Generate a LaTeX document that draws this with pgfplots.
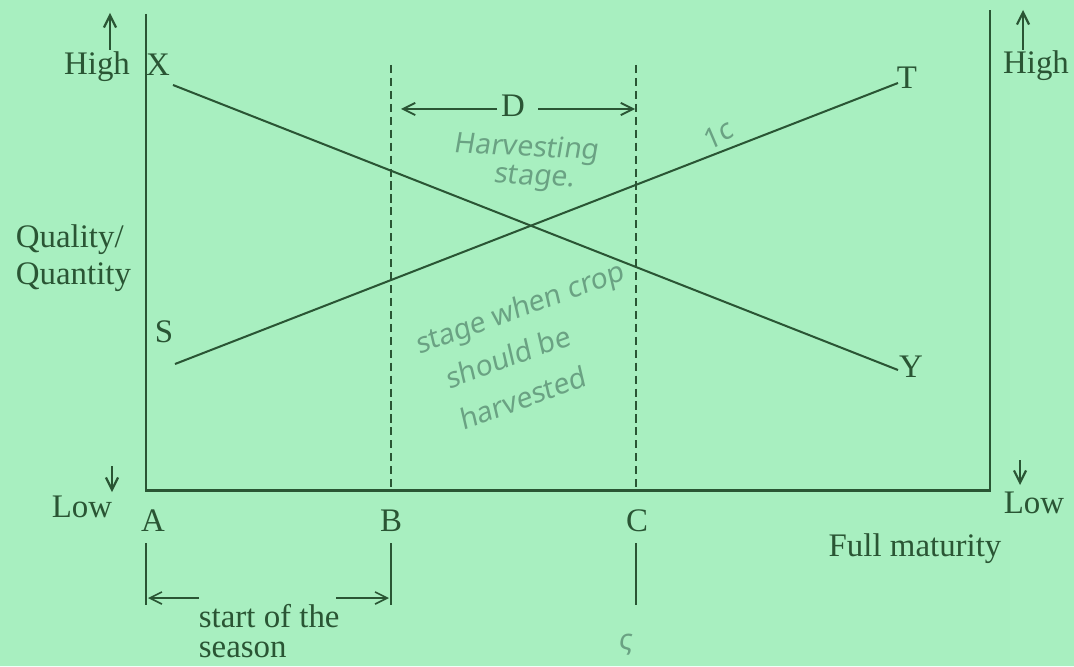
\documentclass[border=0pt]{standalone}
\usepackage{fontspec}
\setmainfont{Liberation Serif}
\newfontfamily\hand[FakeSlant=0.12]{Noto Sans}
\usepackage{pgfplots}
\pgfplotsset{compat=1.18}
\usetikzlibrary{arrows.meta}
\definecolor{paper}{HTML}{A8EFC0}
\definecolor{ink}{HTML}{2A5534}
\definecolor{pencil}{HTML}{6AA283}

\begin{document}
\begin{tikzpicture}[
  barb/.style={-{Straight Barb[length=4.5pt,width=4.5pt]}},
  lab/.style={text=ink,inner sep=0.5pt,font=\fontsize{12.2}{14}\selectfont},
  note/.style={text=pencil,inner sep=0pt,font=\hand\fontsize{10.5}{12}\selectfont},
]
\begin{axis}[
  width=14cm,height=8.682cm,scale only axis,
  xmin=0,xmax=1074,ymin=0,ymax=666,y dir=reverse,
  hide axis,clip=false,
]
% paper
\addplot[fill=paper,draw=none] coordinates {(0,0)(1074,0)(1074,666)(0,666)(0,0)};
% frame: left axis, base line, right axis
\addplot[ink,line width=1.1pt] coordinates {(146,14)(146,490)(990,490)(990,10)};
% harvesting window
\addplot[ink,line width=1.1pt,dash pattern=on 3pt off 1.8pt] coordinates {(391,65)(391,490)};
\addplot[ink,line width=1.1pt,dash pattern=on 3pt off 1.8pt] coordinates {(636,65)(636,490)};
% the two curves
\addplot[ink,line width=0.75pt] coordinates {(173,85)(898,370)};
\addplot[ink,line width=0.75pt] coordinates {(175,364)(898,83)};
% D arrows
\addplot[ink,line width=0.7pt,barb] coordinates {(497,109)(401,109)};
\addplot[ink,line width=0.7pt,barb] coordinates {(538,109)(635,109)};
% High / Low arrows
\addplot[ink,line width=0.8pt,barb] coordinates {(110,50)(110,13)};
\addplot[ink,line width=0.8pt,barb] coordinates {(1023,50)(1023,10)};
\addplot[ink,line width=0.8pt,barb] coordinates {(112,466)(112,492)};
\addplot[ink,line width=0.8pt,barb] coordinates {(1020,460)(1020,485)};
% markers below the base line
\addplot[ink,line width=0.6pt] coordinates {(146,543)(146,605)};
\addplot[ink,line width=0.6pt] coordinates {(391,543)(391,605)};
\addplot[ink,line width=0.6pt] coordinates {(636,543)(636,605)};
\addplot[ink,line width=0.6pt,barb] coordinates {(199,598)(148,598)};
\addplot[ink,line width=0.6pt,barb] coordinates {(336,598)(389,598)};

% printed labels
\node[lab] at (axis cs:97,67) {High};
\node[lab] at (axis cs:1036,66) {High};
\node[lab] at (axis cs:82,507) {Low};
\node[lab] at (axis cs:1034,503) {Low};
\node[lab] at (axis cs:158,65) {X};
\node[lab] at (axis cs:907,78) {T};
\node[lab] at (axis cs:911,367) {Y};
\node[lab] at (axis cs:164,332) {S};
\node[lab] at (axis cs:153,521) {A};
\node[lab] at (axis cs:391,521) {B};
\node[lab] at (axis cs:637,521) {C};
\node[lab] at (axis cs:513,106) {D};
\node[lab,anchor=west] at (axis cs:14,240) {Quality/};
\node[lab,anchor=west] at (axis cs:14,277) {Quantity};
\node[lab] at (axis cs:915,549) {Full maturity};
\node[lab,anchor=west] at (axis cs:197,616) {start of the};
\node[lab,anchor=west] at (axis cs:197,650) {season};

% pencil notes
\node[note,rotate=-3] at (axis cs:526,149) {Harvesting};
\node[note,rotate=-3] at (axis cs:534,179) {stage.};
\node[note,rotate=30] at (axis cs:717,135) {1c};
\node[note,rotate=20] at (axis cs:520,310) {stage when crop};
\node[note,rotate=20] at (axis cs:507,357) {should be};
\node[note,rotate=20] at (axis cs:522,398) {harvested};
\node[note] at (axis cs:625,645) {ς};
\end{axis}
\end{tikzpicture}
\end{document}
